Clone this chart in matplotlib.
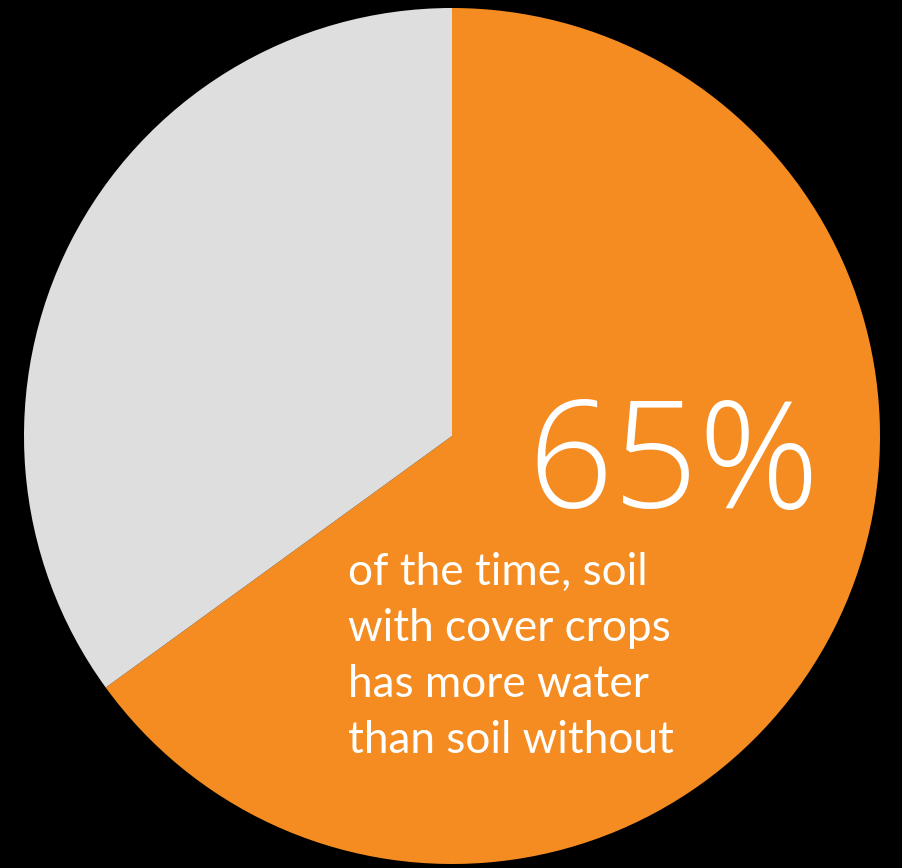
import matplotlib
matplotlib.use("Agg")
import matplotlib.pyplot as plt

# share of the time soil with cover crops has more water
labels = ["More water with cover crops", "Otherwise"]
shares = [65, 35]
colors = ["#F48C22", "#DEDEDE"]
big_label = "65%"
caption = ["of the time, soil", "with cover crops", "has more water", "than soil without"]

W, H = 902, 868
fig = plt.figure(figsize=(W / 100, H / 100), dpi=100, facecolor="black")
ax = fig.add_axes([0, 0, 1, 1])
ax.set_facecolor("black")

ax.pie(shares, colors=colors, startangle=90, counterclock=False,
       center=(452, H - 436), radius=428, frame=True,
       wedgeprops=dict(linewidth=0, antialiased=True))
ax.set_xlim(0, W)
ax.set_ylim(0, H)
ax.set_aspect("equal")
ax.axis("off")

ax.text(527, H - 508, big_label, color="white", fontsize=108, family="Open Sans",
        fontweight=300, ha="left", va="baseline")
for i, line in enumerate(caption):
    ax.text(348, H - (585 + 56 * i), line, color="white", fontsize=31.8,
            family="Lato", ha="left", va="baseline")

fig.savefig("out.png", dpi=100, facecolor="black")
